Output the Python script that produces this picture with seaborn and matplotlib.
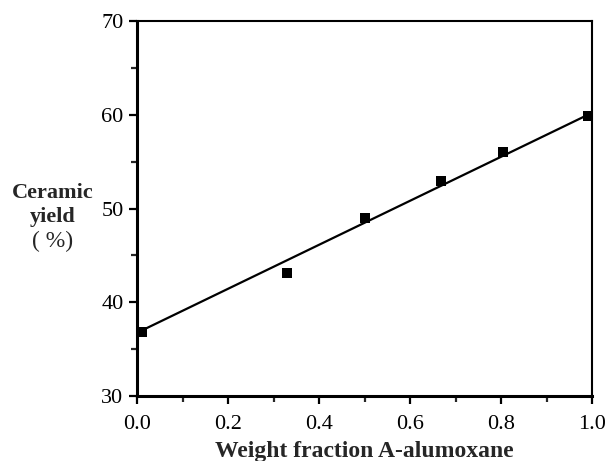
import matplotlib
matplotlib.use("Agg")
import matplotlib.pyplot as plt
from matplotlib.ticker import MultipleLocator
import seaborn as sns
import pandas as pd

weight_fraction = [0.01, 0.33, 0.50, 0.667, 0.804, 0.99]
ceramic_yield = [36.8, 43.1, 49.0, 52.9, 56.0, 59.9]
fit_x = [0.01, 0.99]
fit_y = [37.0, 60.0]
x_ticks = [0.0, 0.2, 0.4, 0.6, 0.8, 1.0]
y_ticks = [30, 40, 50, 60, 70]

sns.set_theme(style="ticks")
plt.rcParams['font.family'] = ['Liberation Serif', 'DejaVu Serif']

df = pd.DataFrame({"x": weight_fraction, "y": ceramic_yield})
fit = pd.DataFrame({"x": fit_x, "y": fit_y})

fig = plt.figure(figsize=(6.08, 4.61), dpi=100)
ax = fig.add_axes([0.226, 0.141, 0.748, 0.813])

sns.lineplot(data=fit, x="x", y="y", ax=ax, color="black", linewidth=1.6)
sns.scatterplot(data=df, x="x", y="y", ax=ax, marker="s", color="black",
                s=55, edgecolor="black", linewidth=0, zorder=3)

ax.set_xlim(0, 1)
ax.set_ylim(30, 70)
ax.set_xticks(x_ticks)
ax.set_xticklabels([f"{v:.1f}" for v in x_ticks])
ax.set_yticks(y_ticks)
ax.set_yticklabels([str(v) for v in y_ticks])
ax.xaxis.set_minor_locator(MultipleLocator(0.1))
ax.yaxis.set_minor_locator(MultipleLocator(5))
ax.tick_params(which="major", direction="out", length=6, width=1.6,
               labelsize=16, colors="black", pad=4)
ax.tick_params(axis="x", which="major", pad=8)
ax.tick_params(which="minor", direction="out", length=4, width=1.6)
ax.tick_params(top=False, right=False, which="both")

for side, lw in [("left", 2.2), ("bottom", 2.2), ("top", 1.5), ("right", 1.5)]:
    ax.spines[side].set_visible(True)
    ax.spines[side].set_linewidth(lw)
    ax.spines[side].set_color("black")

ax.set_xlabel("Weight fraction A-alumoxane", fontsize=17, fontweight="bold", labelpad=5)
ax.set_ylabel("")
fig.text(0.086, 1 - 222 / 461, "Ceramic\nyield", fontsize=16, fontweight="bold",
         ha="center", va="baseline", linespacing=1.3)
fig.text(0.086, 1 - 247 / 461, "( %)", fontsize=17, fontweight="normal",
         ha="center", va="baseline")

fig.savefig("out.png", dpi=100)
